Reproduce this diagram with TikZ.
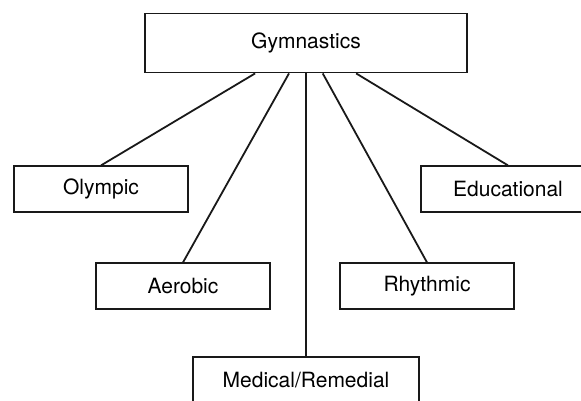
\documentclass[tikz,border=0pt]{standalone}
\usepackage{fontspec}
\setmainfont{TeX Gyre Heros}
\usetikzlibrary{positioning}

\begin{document}
\begin{tikzpicture}[
		block/.style={
			rectangle,
			draw=black!90,
			line width=1.8pt,
			minimum height=46pt,
			minimum width=174pt,
			inner sep=0pt,
			font=\fontsize{21}{25}\selectfont,
			align=center
		},
		link/.style={line width=1.8pt, black!90}]
		
		\useasboundingbox (0,0) rectangle (581pt,-400pt);
		
		\node [block, minimum width=322pt, minimum height=59pt] (gym) at (306pt,-43pt) {Gymnastics};
		\node [block, below=92pt of gym, xshift=-205pt] (olympic) {Olympic};
		\node [block, below=92pt of gym, xshift=202pt] (educational) {Educational};
		\node [block, below=189pt of gym, xshift=-123pt] (aerobic) {Aerobic};
		\node [block, below=189pt of gym, xshift=121pt] (rhythmic) {Rhythmic};
		\node [block, below=283pt of gym, minimum width=226pt] (medical) {Medical/Remedial};
		
		\draw [link] (gym) -- (olympic.north);
		\draw [link] (gym) -- (aerobic.north);
		\draw [link] (gym) -- (medical.north);
		\draw [link] (gym) -- (rhythmic.north);
		\draw [link] (gym) -- (educational.north);
	\end{tikzpicture}
\end{document}
